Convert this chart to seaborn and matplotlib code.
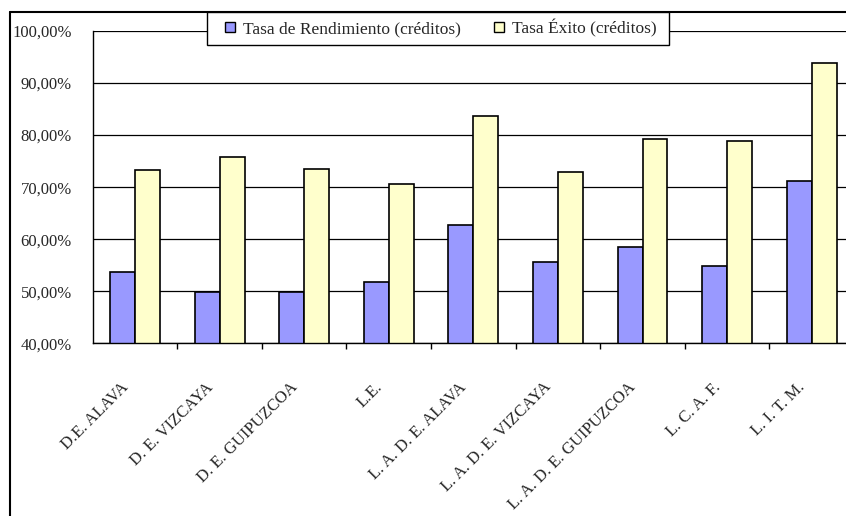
import matplotlib
matplotlib.use('Agg')
import matplotlib.pyplot as plt
from matplotlib.ticker import FuncFormatter, FixedLocator
from matplotlib.patches import Patch, Rectangle
from matplotlib.lines import Line2D
import matplotlib.transforms as mtrans
import pandas as pd
import seaborn as sns

titulaciones = ['D.E. ALAVA', 'D. E. VIZCAYA', 'D. E. GUIPUZCOA', 'L.E.',
                'L. A. D. E. ALAVA', 'L. A. D. E. VIZCAYA', 'L. A. D. E. GUIPUZCOA',
                'L. C. A. F.', 'L. I. T. M.']
rendimiento = [53.7, 49.8, 49.8, 51.8, 62.8, 55.7, 58.5, 54.9, 71.2]
exito = [73.2, 75.8, 73.5, 70.6, 83.6, 72.9, 79.2, 78.9, 93.8]
series = ['Tasa de Rendimiento (créditos)', 'Tasa Éxito (créditos)']
colores = ['#9999FF', '#FFFFCC']

df = pd.DataFrame({
    'titulacion': titulaciones * 2,
    'serie': [series[0]] * len(titulaciones) + [series[1]] * len(titulaciones),
    'valor': rendimiento + exito,
})

sns.set_style('white')
plt.rcParams['font.family'] = ['Liberation Serif', 'DejaVu Serif']

W, H = 846, 516
fig = plt.figure(figsize=(8.46, 5.16), dpi=100)
ax = fig.add_axes([92.7 / W, 1 - 343.3 / H, (854 - 92.7) / W, (343.3 - 31) / H])

sns.barplot(data=df, x='titulacion', y='valor', hue='serie', palette=colores,
            width=0.59, edgecolor='black', linewidth=1.2, ax=ax, legend=False,
            saturation=1)

ax.set_ylim(40, 100)
ax.set_xlim(-0.5, len(titulaciones) - 0.5)
ax.set_yticks([40, 50, 60, 70, 80, 90, 100])
ax.yaxis.set_major_formatter(FuncFormatter(lambda v, p: ('%.2f%%' % v).replace('.', ',')))
ax.grid(axis='y', color='black', linewidth=0.9)
ax.set_axisbelow(True)
for s in ['top', 'right']:
    ax.spines[s].set_visible(False)
for s in ['left', 'bottom']:
    ax.spines[s].set_color('black')
    ax.spines[s].set_linewidth(1)
ax.set_xlabel('')
ax.set_ylabel('')

ax.tick_params(axis='y', direction='out', length=6, width=1, color='black', labelsize=12, pad=9)
ax.tick_params(axis='x', which='major', length=0, pad=30)
ax.xaxis.set_minor_locator(FixedLocator([i + 0.5 for i in range(len(titulaciones) - 1)]))
ax.tick_params(axis='x', which='minor', direction='out', length=4, width=1, color='black', bottom=True)
ax.set_xticks(range(len(titulaciones)))
ax.set_xticklabels(titulaciones, rotation=45, ha='right', va='center',
                   rotation_mode='anchor', fontsize=12)
offset = mtrans.ScaledTranslation(-9 / 100, 0, fig.dpi_scale_trans)
for lab in ax.get_xticklabels():
    lab.set_transform(lab.get_transform() + offset)

# caja de la leyenda
fig.add_artist(Rectangle((207 / W, 1 - 45 / H), (669 - 207) / W, 33 / H,
                         transform=fig.transFigure, facecolor='white', edgecolor='black',
                         linewidth=1, zorder=5))
handles = [Patch(facecolor=c, edgecolor='black', linewidth=1) for c in colores]
leg = fig.legend(handles, series, loc='center left', ncol=2,
                 bbox_to_anchor=(225 / W, 1 - 28 / H), frameon=False,
                 fontsize=12.5, handlelength=0.55, handleheight=0.55,
                 handletextpad=0.5, columnspacing=1.9, borderpad=0, borderaxespad=0)
leg.set_zorder(6)

# marco exterior del grafico
fig.add_artist(Line2D([10 / W, 10 / W], [0, 1 - 12 / H], color='black', linewidth=1.5,
                      transform=fig.transFigure))
fig.add_artist(Line2D([10 / W, 1], [1 - 12 / H, 1 - 12 / H], color='black', linewidth=1.5,
                      transform=fig.transFigure, zorder=0))

fig.savefig('out.png', dpi=100)
